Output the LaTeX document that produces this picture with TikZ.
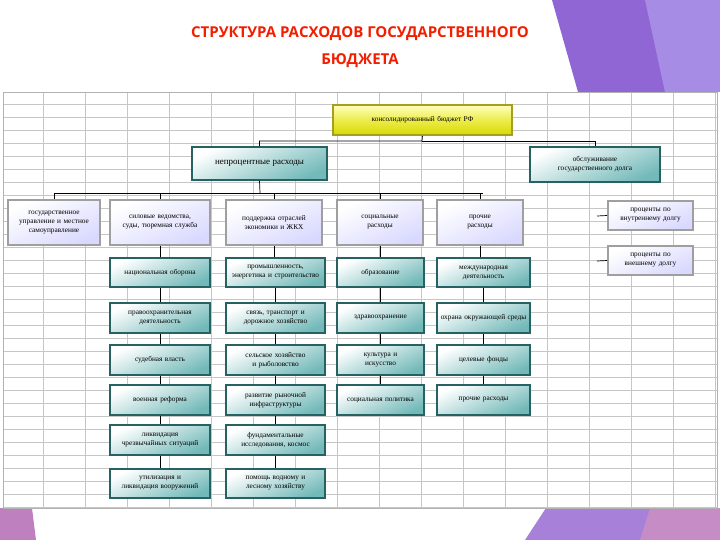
\documentclass[tikz,border=0pt]{standalone}
\usepackage{fontspec}
\setmainfont{Liberation Serif}
\newfontfamily\titlefont{Open Sans}
\begin{document}
\begin{tikzpicture}[x=1pt,y=-1pt,
  base/.style={rectangle,inner sep=1pt,align=center,font=\fontsize{7.3}{9}\selectfont},
  teal/.style={base,draw=teal!55!black!85,line width=1.8pt,top color=white,bottom color=teal!55,shading angle=25},
  lav/.style={base,draw=gray!75,line width=1.8pt,top color=white,bottom color=blue!15,shading angle=25},
  yel/.style={base,draw=olive!80,line width=1.8pt,top color=yellow!25,bottom color=yellow!70!olive},
  ln/.style={line width=0.7pt},
  grid/.style={gray!45,line width=0.4pt}]
\useasboundingbox (0,0) rectangle (720,540);
\fill[white] (0,0) rectangle (720,540);
% decorations
\fill[blue!45!violet!60] (552,0) -- (720,0) -- (720,92) -- (578,92) -- cycle;
\fill[violet!45!blue!45] (645,0) -- (720,0) -- (720,92) -- (665,92) -- cycle;
\fill[violet!50] (0,508) -- (32,508) -- (36,540) -- (0,540) -- cycle;
\fill[blue!40!violet!50] (546,508) -- (720,508) -- (720,540) -- (525,540) -- cycle;
\fill[violet!45] (650,508) -- (720,508) -- (720,540) -- (640,540) -- cycle;
% title
\node[font=\titlefont\bfseries\fontsize{15}{27}\selectfont,text=red!75!orange!95!black,align=center] (title) at (360,47) {СТРУКТУРА РАСХОДОВ ГОСУДАРСТВЕННОГО\\БЮДЖЕТА};
% sheet
\fill[white] (3,92) rectangle (717,508);
\foreach \x in {43,85,...,717} \draw[grid] (\x,92) -- (\x,508);
\foreach \y in {104,117,...,508} \draw[grid] (3,\y) -- (717,\y);
\draw[gray!60] (3,92) rectangle (717,508);
\newcommand\bx[7]{\node[#2,minimum width={#5-#3},minimum height={#6-#4},text width={#5-#3-6}] (#1) at ({(#3+#5)/2},{(#4+#6)/2}) {#7};}
\bx{root}{yel}{333}{105}{512}{135}{консолидированный бюджет РФ}
\bx{np}{teal}{192}{147}{327}{180}{\fontsize{9}{10}\selectfont непроцентные расходы}
\bx{ob}{teal}{530}{147}{660}{182}{обслуживание\\государственного долга}
\bx{a}{lav}{8}{200}{100}{245}{государственное управление и местное самоуправление}
\bx{b}{lav}{110}{200}{210}{245}{силовые ведомства, суды, тюремная служба}
\bx{c}{lav}{226}{200}{322}{245}{поддержка отраслей экономики и ЖКХ}
\bx{d}{lav}{337}{200}{423}{245}{социальные\\расходы}
\bx{e}{lav}{437}{200}{523}{245}{прочие\\расходы}
\bx{p1}{lav}{608}{201}{693}{230}{проценты по\\внутреннему долгу}
\bx{p2}{lav}{608}{246}{693}{275}{проценты по\\внешнему долгу}
% column b
\bx{b1}{teal}{110}{258}{210}{287}{национальная оборона}
\bx{b2}{teal}{110}{303}{210}{333}{правоохранительная деятельность}
\bx{b3}{teal}{110}{345}{210}{375}{судебная власть}
\bx{b4}{teal}{110}{385}{210}{415}{военная реформа}
\bx{b5}{teal}{110}{425}{210}{455}{ликвидация чрезвычайных ситуаций}
\bx{b6}{teal}{110}{469}{210}{498}{утилизация и ликвидация вооружений}
% column c
\bx{c1}{teal}{226}{258}{325}{287}{промышленность, энергетика и строительство}
\bx{c2}{teal}{226}{303}{325}{333}{связь, транспорт и дорожное хозяйство}
\bx{c3}{teal}{226}{345}{325}{375}{сельское хозяйство и рыболовство}
\bx{c4}{teal}{226}{385}{325}{415}{развитие рыночной инфраструктуры}
\bx{c5}{teal}{226}{425}{325}{455}{фундаментальные исследования, космос}
\bx{c6}{teal}{226}{469}{325}{498}{помощь водному и лесному хозяйству}
% column d
\bx{d1}{teal}{337}{258}{424}{287}{образование}
\bx{d2}{teal}{337}{303}{424}{333}{здравоохранение}
\bx{d3}{teal}{337}{345}{424}{375}{культура и\\искусство}
\bx{d4}{teal}{337}{385}{424}{415}{социальная политика}
% column e
\bx{e1}{teal}{437}{258}{530}{287}{международная деятельность}
\bx{e2}{teal}{437}{303}{530}{333}{охрана окружающей среды}
\bx{e3}{teal}{437}{345}{530}{375}{целевые фонды}
\bx{e4}{teal}{437}{385}{530}{415}{прочие расходы}
% connectors
\draw[ln] (root.south) -- (422,141) -| (np.north);
\draw[ln] (422,141) -| (ob.north);
\draw[ln] (np.south) -- (260,193);
\draw[ln] (55,193) -- (483,193);
\foreach \n in {a,b,c,d,e} \draw[ln] (\n.north|-0,193) -- (\n.north);
\coordinate (s1) at (597,216); \coordinate (s2) at (597,261);
\draw[ln] (s1) -- (p1.west);
\draw[ln] (s2) -- (p2.west);
\foreach \u/\v in {b/b1,b1/b2,b2/b3,b3/b4,b4/b5,b5/b6,c/c1,c1/c2,c2/c3,c3/c4,c4/c5,c5/c6,d/d1,d1/d2,d2/d3,d3/d4,e/e1,e1/e2,e2/e3,e3/e4}
  \draw[line width=1pt] (\u.south) -- (\u.south|-\v.north);
\end{tikzpicture}
\end{document}
